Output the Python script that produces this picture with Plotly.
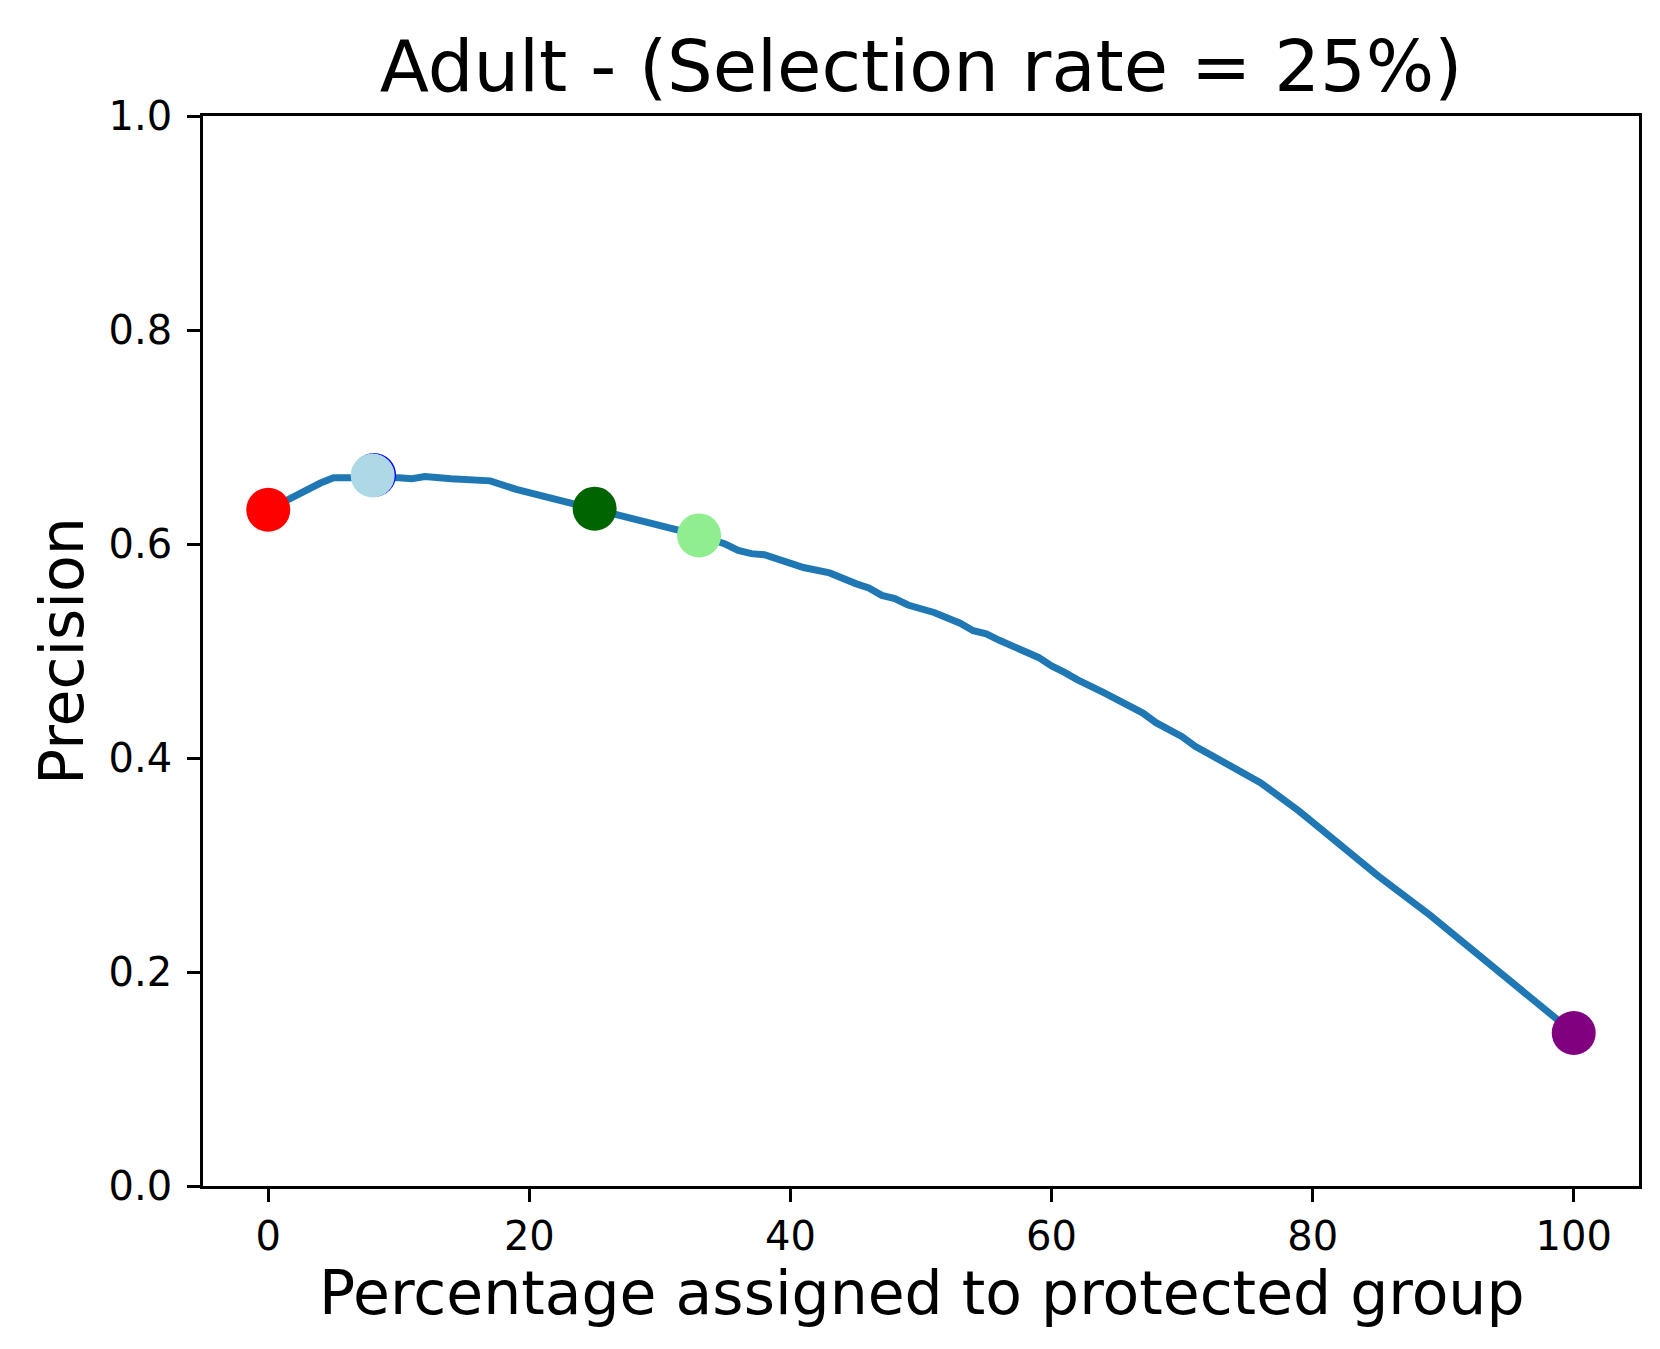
import plotly.graph_objects as go

# Curve: precision vs percentage assigned to protected group
pct = [0, 2, 4, 5, 6, 8, 10, 11, 12, 14, 17, 19, 21, 23, 25, 27, 29, 30, 32, 33,
       35, 36, 37, 38, 41, 43, 45, 46, 47, 48, 49, 51, 53, 54, 55, 56, 59, 60, 61, 62,
       64, 65, 67, 68, 69, 70, 71, 72, 75, 76, 79, 82, 85, 89, 92, 94, 96, 99, 100]
precision = [0.632, 0.645, 0.657, 0.662, 0.662, 0.663, 0.662, 0.661, 0.663, 0.661,
             0.659, 0.651, 0.645, 0.638, 0.632, 0.627, 0.620, 0.618, 0.612, 0.608,
             0.600, 0.594, 0.591, 0.590, 0.578, 0.573, 0.563, 0.559, 0.552, 0.549,
             0.543, 0.536, 0.526, 0.519, 0.516, 0.510, 0.494, 0.486, 0.480, 0.473,
             0.461, 0.455, 0.442, 0.433, 0.427, 0.420, 0.411, 0.404, 0.383, 0.377,
             0.350, 0.319, 0.290, 0.253, 0.223, 0.202, 0.182, 0.151, 0.143]

# Highlighted points (drawn in this order)
point_x = [0, 8.1, 8, 25, 33, 100]
point_y = [0.632, 0.6645, 0.664, 0.633, 0.608, 0.143]
point_colors = ["red", "blue", "lightblue", "darkgreen", "lightgreen", "purple"]

x_ticks = [0, 20, 40, 60, 80, 100]
y_ticks = [0.0, 0.2, 0.4, 0.6, 0.8, 1.0]

FONT = "DejaVu Sans"

fig = go.Figure()
fig.add_trace(go.Scatter(x=pct, y=precision, mode="lines",
                         line=dict(color="#1f77b4", width=7),
                         showlegend=False, hoverinfo="skip"))
for px_, py_, c in zip(point_x, point_y, point_colors):
    fig.add_trace(go.Scatter(x=[px_], y=[py_], mode="markers",
                             marker=dict(color=c, size=44, line=dict(width=0)),
                             showlegend=False))

axis_common = dict(showline=True, linecolor="black", linewidth=2.7, mirror=True,
                   ticks="outside", ticklen=13, tickwidth=2.7, tickcolor="black",
                   showgrid=False, zeroline=False,
                   tickfont=dict(family=FONT, size=40, color="black"))

fig.update_xaxes(range=[-5, 105], tickvals=x_ticks, ticklabelstandoff=0, **axis_common)
fig.update_yaxes(range=[0, 1], tickvals=y_ticks, tickformat=".1f", ticklabelstandoff=7,
                 **axis_common)

fig.update_layout(
    width=1660, height=1349,
    margin=dict(l=195, r=29, t=108, b=171),
    paper_bgcolor="white", plot_bgcolor="white",
    title=dict(text="Adult - (Selection rate = 25%)", x=913 / 1660,
               xanchor="center", xref="container",
               y=1 - 58 / 1349, yanchor="middle", yref="container",
               font=dict(family=FONT, size=72, color="black")),
    annotations=[
        dict(text="Percentage assigned to protected group", xref="paper", yref="paper",
             x=0.5, y=(1178 - 1285) / 1070, xanchor="center", yanchor="middle",
             showarrow=False, font=dict(family=FONT, size=60, color="black")),
        dict(text="Precision", xref="paper", yref="paper",
             x=(54 - 195) / 1436, y=0.5, xanchor="center", yanchor="middle",
             textangle=-90, showarrow=False,
             font=dict(family=FONT, size=60, color="black")),
    ],
)

fig.write_html("out.html")
